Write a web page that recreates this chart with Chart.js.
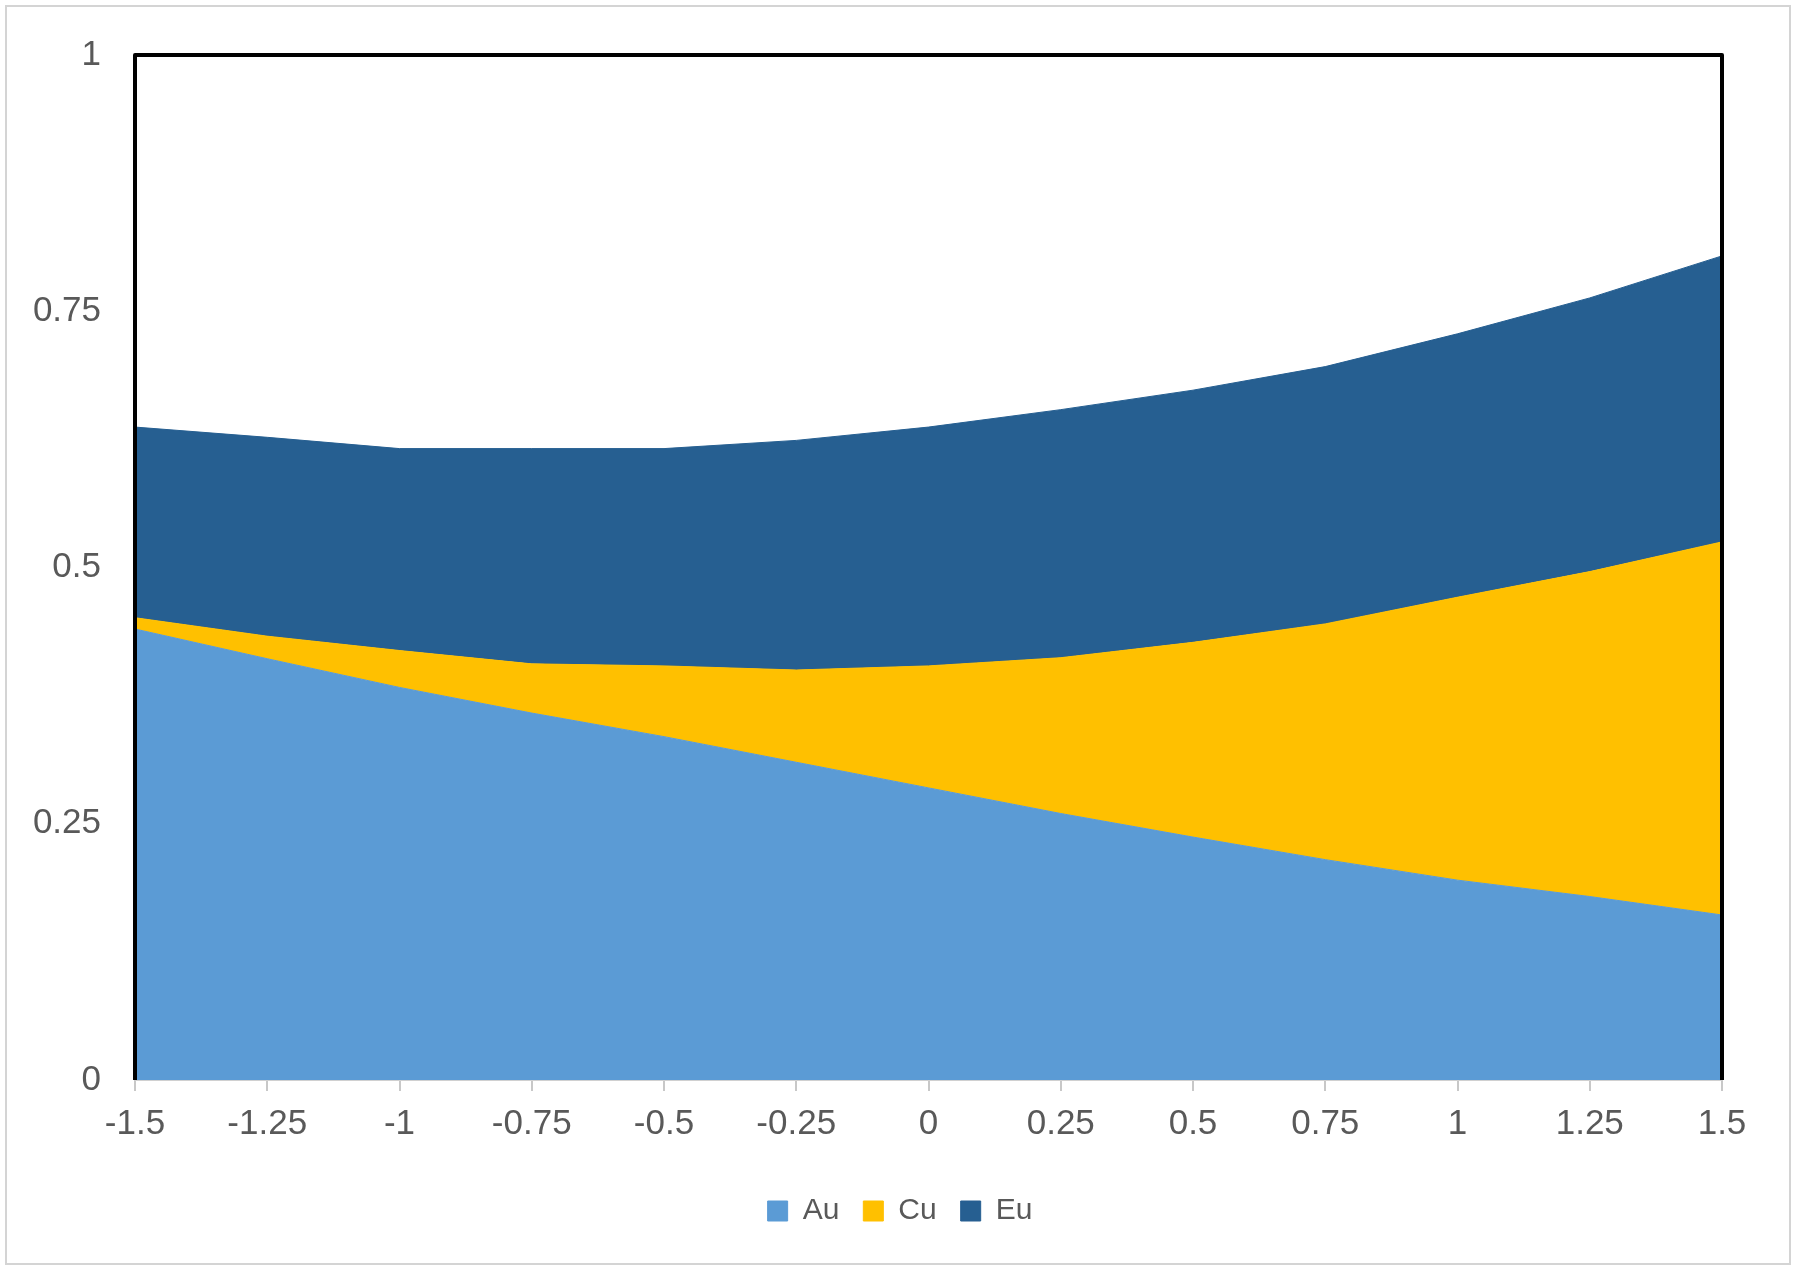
<!DOCTYPE html>
<html>
<head>
<meta charset="utf-8">
<script src="https://cdn.jsdelivr.net/npm/chart.js@4.4.1/dist/chart.umd.min.js"></script>
<style>
  html, body { margin: 0; padding: 0; background: #fff; }
  #wrap { position: relative; width: 1800px; height: 1276px; }
  #frame { position: absolute; left: 5px; top: 5px; width: 1786px; height: 1260px; border: 2px solid #d4d4d4; box-sizing: border-box; }
  canvas { position: absolute; left: 0; top: 0; }
</style>
</head>
<body>
<div id="wrap">
  <div id="frame"></div>
  <canvas id="chart" width="1800" height="1276"></canvas>
</div>
<script>
// x positions (category ticks)
const xLabels = ["-1.5", "-1.25", "-1", "-0.75", "-0.5", "-0.25", "0", "0.25", "0.5", "0.75", "1", "1.25", "1.5"];

// stacked shares
const auValues = [0.440, 0.411, 0.383, 0.358, 0.335, 0.310, 0.285, 0.260, 0.237, 0.215, 0.195, 0.179, 0.161];
const cuValues = [0.011, 0.022, 0.036, 0.048, 0.069, 0.090, 0.119, 0.152, 0.190, 0.230, 0.276, 0.317, 0.364];
const euValues = [0.186, 0.194, 0.197, 0.210, 0.212, 0.224, 0.233, 0.242, 0.246, 0.251, 0.257, 0.267, 0.279];

const yTicks = [0, 0.25, 0.5, 0.75, 1];

// black border round the plot area (top, left, right)
const plotBorder = {
  id: "plotBorder",
  afterDatasetsDraw(chart) {
    const { ctx, chartArea: a } = chart;
    ctx.save();
    ctx.strokeStyle = "#000";
    ctx.lineWidth = 4;
    ctx.lineJoin = "round";
    ctx.beginPath();
    ctx.moveTo(a.left, a.bottom);
    ctx.lineTo(a.left, a.top);
    ctx.lineTo(a.right, a.top);
    ctx.lineTo(a.right, a.bottom);
    ctx.stroke();
    ctx.restore();
  }
};

const tickFont = { family: "'Liberation Sans', Arial, sans-serif", size: 35 };

new Chart(document.getElementById("chart"), {
  type: "line",
  data: {
    labels: xLabels,
    datasets: [
      { label: "Au", data: auValues, backgroundColor: "#5B9BD5", borderColor: "#5B9BD5", fill: "origin" },
      { label: "Cu", data: cuValues, backgroundColor: "#FFC000", borderColor: "#FFC000", fill: "-1" },
      { label: "Eu", data: euValues, backgroundColor: "#265F91", borderColor: "#265F91", fill: "-1" }
    ]
  },
  options: {
    responsive: false,
    animation: false,
    layout: { padding: { left: 0, top: 51, right: 0, bottom: 40 } },
    elements: {
      point: { radius: 0 },
      line: { borderWidth: 1, tension: 0 }
    },
    plugins: {
      legend: {
        position: "bottom",
        labels: {
          boxWidth: 20,
          boxHeight: 20,
          padding: 24,
          color: "#595959",
          font: { family: "'Liberation Sans', Arial, sans-serif", size: 30 }
        }
      },
      tooltip: { enabled: false },
      filler: { propagate: false }
    },
    scales: {
      x: {
        type: "category",
        offset: false,
        grid: {
          drawOnChartArea: false,
          drawTicks: true,
          tickLength: 11,
          color: "#c8c8c8",
          lineWidth: 2
        },
        border: { display: true, color: "#d0d0d0", width: 2 },
        ticks: {
          color: "#595959",
          font: tickFont,
          padding: 12,
          maxRotation: 0,
          autoSkip: false
        },
        afterFit(scale) { scale.height = 92; }
      },
      y: {
        stacked: true,
        min: 0,
        max: 1,
        afterBuildTicks(scale) { scale.ticks = yTicks.map(v => ({ value: v })); },
        grid: { display: false, drawTicks: false },
        border: { display: false },
        ticks: {
          color: "#595959",
          font: tickFont,
          padding: 34,
          callback: v => String(v)
        },
        afterFit(scale) { scale.width = 135; }
      },
      // empty right-hand margin so the legend centres on the whole page
      yRight: {
        position: "right",
        min: 0,
        max: 1,
        grid: { display: false, drawTicks: false },
        border: { display: false },
        ticks: { display: false },
        afterFit(scale) { scale.width = 78; }
      }
    }
  },
  plugins: [plotBorder]
});
</script>
</body>
</html>
